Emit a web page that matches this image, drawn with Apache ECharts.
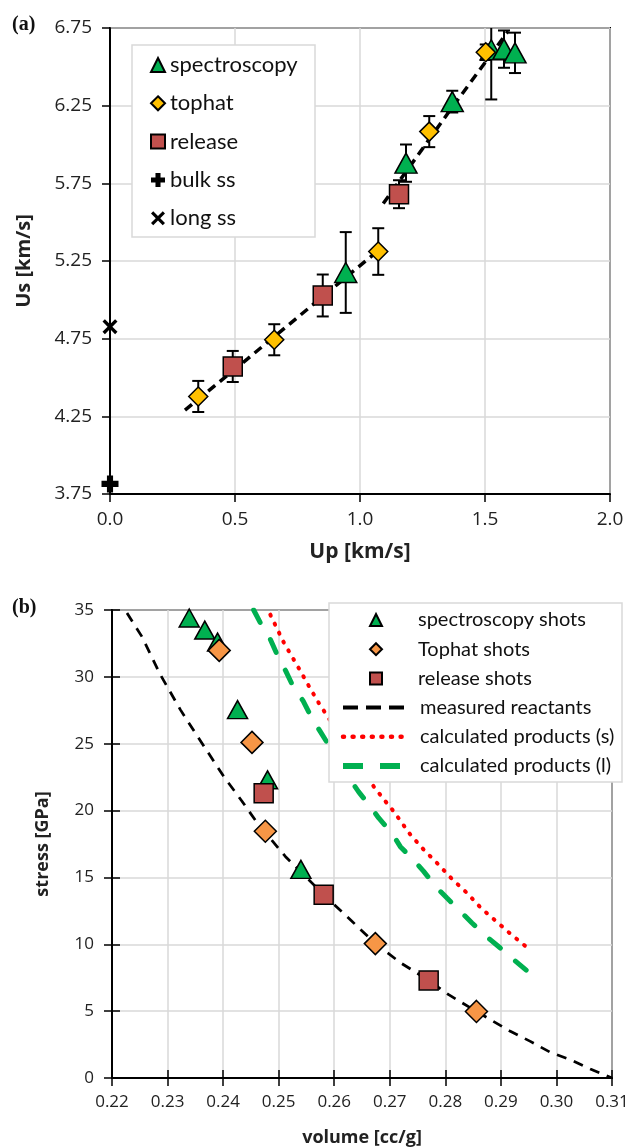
<!DOCTYPE html>
<html><head><meta charset="utf-8">
<script src="https://cdn.jsdelivr.net/npm/echarts@6/dist/echarts.min.js"></script>
<style>html,body{margin:0;padding:0;background:#fff}#c{width:635px;height:1148px}</style>
</head><body><div id="c"></div>
<script>
// ---------- Panel (a): Us vs Up ----------
const aSpecUp  = [0.943, 1.184, 1.369, 1.525, 1.576, 1.620];
const aSpecUs  = [5.176, 5.880, 6.276, 6.610, 6.614, 6.590];
const aSpecErr = [0.26, 0.12, 0.07, 0.32, 0.12, 0.13];
const aTopUp   = [0.353, 0.657, 1.073, 1.277, 1.503];
const aTopUs   = [4.378, 4.743, 5.311, 6.083, 6.594];
const aTopErr  = [0.10, 0.10, 0.15, 0.10, 0.05];
const aRelUp   = [0.491, 0.851, 1.156];
const aRelUs   = [4.571, 5.028, 5.680];
const aRelErr  = [0.10, 0.135, 0.09];
const aBulkUp  = [0.0];
const aBulkUs  = [3.815];
const aLongUp  = [0.0];
const aLongUs  = [4.827];
const aFitLowUp  = [0.30, 0.55, 0.85, 1.075];
const aFitLowUs  = [4.29, 4.62, 5.02, 5.32];
const aFitHighUp = [1.093, 1.36, 1.593];
const aFitHighUs = [5.62, 6.22, 6.73];

// ---------- Panel (b): stress vs volume ----------
const bSpecV = [0.2339, 0.2367, 0.2390, 0.2426, 0.2480, 0.2540];
const bSpecP = [34.4, 33.5, 32.6, 27.55, 22.3, 15.6];
const bTopV  = [0.2393, 0.2452, 0.2476, 0.2674, 0.2856];
const bTopP  = [31.98, 25.1, 18.45, 10.05, 4.98];
const bRelV  = [0.2473, 0.2581, 0.2770];
const bRelP  = [21.3, 13.71, 7.3];
const bMeasV = [0.2227,0.2254,0.2287,0.2323,0.2350,0.2401,0.2434,0.2461,0.2512,0.2545,0.2581,0.2630,0.2674,0.2720,0.2770,0.2806,0.2856,0.2917,0.2953,0.2989,0.3025,0.3061,0.3100];
const bMeasP = [34.78,33.0,30.16,27.55,25.8,22.56,20.7,19.1,16.57,15.2,13.71,11.8,10.05,8.6,7.3,6.23,4.98,3.49,2.74,1.92,1.37,0.67,0.0];
const bCalcSV = [0.2485,0.2509,0.2536,0.2554,0.2572,0.2671,0.2690,0.2707,0.2737,0.2761,0.2788,0.2812,0.2839,0.2863,0.2890,0.2917,0.2946];
const bCalcSP = [34.65,32.58,30.66,29.34,28.05,21.81,20.8,19.94,18.2,17.08,15.95,14.88,13.84,12.76,11.77,10.79,9.8];
const bCalcLV = [0.2455,0.2470,0.2485,0.2500,0.2512,0.2527,0.2544,0.2560,0.2575,0.2629,0.2644,0.2665,0.2680,0.2704,0.2719,0.2743,0.2761,0.2785,0.2803,0.2830,0.2848,0.2875,0.2899,0.2923,0.2946];
const bCalcLP = [35.0,33.8,32.8,31.4,30.5,29.2,28.2,26.9,25.9,22.3,21.4,20.3,19.45,18.3,17.3,16.3,15.45,14.21,13.46,12.34,11.59,10.55,9.72,8.85,8.05];

const aXTicks = {min:0, max:2, interval:0.5};
const aYTicks = {min:3.75, max:6.75, interval:0.5};
const bXTicks = {min:0.22, max:0.31, interval:0.01};
const bYTicks = {min:0, max:35, interval:5};

const zip = (xs, ys) => xs.map((x, i) => [x, ys[i]]);
const TICKFONT = 'Open Sans';
const LEGFONT = 'Lato';
const GREEN = '#00B050', YELLOW = '#FFC000', BRICK = '#C0504D', ORANGE = '#F79646';
const PLUS = 'path://M3.2,0H6.8V3.2H10V6.8H6.8V10H3.2V6.8H0V3.2H3.2Z';
const CROSS = 'path://M0,1.6L1.6,0L5,3.4L8.4,0L10,1.6L6.6,5L10,8.4L8.4,10L5,6.6L1.6,10L0,8.4L3.4,5Z';

function errSeries(xi, xs, ys, es) {
  return {
    type: 'custom', xAxisIndex: xi, yAxisIndex: xi, clip: true, silent: true, z: 2,
    data: xs.map((x, i) => [x, ys[i], es[i]]),
    renderItem: (params, api) => {
      const x = api.value(0), y = api.value(1), e = api.value(2);
      const t = api.coord([x, y + e]), b = api.coord([x, y - e]);
      const cw = 6, st = {stroke: '#000', lineWidth: 2};
      return {type: 'group', children: [
        {type: 'line', shape: {x1: t[0], y1: t[1], x2: b[0], y2: b[1]}, style: st},
        {type: 'line', shape: {x1: t[0]-cw, y1: t[1], x2: t[0]+cw, y2: t[1]}, style: st},
        {type: 'line', shape: {x1: b[0]-cw, y1: b[1], x2: b[0]+cw, y2: b[1]}, style: st}
      ]};
    }
  };
}

const gridLine = {show: true, lineStyle: {color: '#d9d9d9', width: 1.5}};
const axLine = {show: true, onZero: false, lineStyle: {color: '#000', width: 2}};
const nameStyle = sz => ({fontFamily: TICKFONT, fontWeight: 'bold', fontSize: sz, color: '#222'});

const chart = echarts.init(document.getElementById('c'), null, {renderer: 'canvas'});
chart.setOption({
  animation: false,
  backgroundColor: '#fff',
  grid: [
    {left: 110, top: 28, width: 500, height: 466, show: true, borderColor: '#000', borderWidth: 2, backgroundColor: 'transparent'},
    {left: 112, top: 610, width: 500, height: 468, show: true, borderColor: '#000', borderWidth: 2, backgroundColor: 'transparent'}
  ],
  xAxis: [
    Object.assign({type: 'value', gridIndex: 0, position: 'bottom', axisLine: axLine,
      axisTick: {show: true, inside: false, length: 8, lineStyle: {color: '#000', width: 1.5}},
      splitLine: gridLine,
      axisLabel: {formatter: v => v.toFixed(1), fontFamily: TICKFONT, fontSize: 19, color: '#222', margin: 16},
      name: 'Up [km/s]', nameLocation: 'middle', nameGap: 48, nameTextStyle: nameStyle(21)}, aXTicks),
    Object.assign({type: 'value', gridIndex: 1, position: 'bottom', axisLine: axLine,
      axisTick: {show: true, inside: false, length: 8, lineStyle: {color: '#000', width: 1.5}},
      splitLine: gridLine,
      axisLabel: {formatter: v => v.toFixed(2), fontFamily: TICKFONT, fontSize: 17, color: '#222', margin: 16},
      name: 'volume [cc/g]', nameLocation: 'middle', nameGap: 51, nameTextStyle: nameStyle(18)}, bXTicks),
    Object.assign({type: 'value', gridIndex: 1, position: 'bottom', axisLine: {show: false},
      axisTick: {show: true, inside: true, length: 8, lineStyle: {color: '#000', width: 1.5}},
      splitLine: {show: false}, axisLabel: {show: false}}, bXTicks)
  ],
  yAxis: [
    Object.assign({type: 'value', gridIndex: 0, position: 'left', axisLine: axLine,
      axisTick: {show: true, inside: false, length: 8, lineStyle: {color: '#000', width: 1.5}},
      splitLine: gridLine,
      axisLabel: {formatter: v => v.toFixed(2), fontFamily: TICKFONT, fontSize: 19, color: '#222', margin: 18},
      name: 'Us [km/s]', nameLocation: 'middle', nameGap: 76, nameTextStyle: nameStyle(20)}, aYTicks),
    Object.assign({type: 'value', gridIndex: 1, position: 'left', axisLine: axLine,
      axisTick: {show: true, inside: false, length: 8, lineStyle: {color: '#000', width: 1.5}},
      splitLine: gridLine,
      axisLabel: {fontFamily: TICKFONT, fontSize: 17, color: '#222', margin: 18},
      name: 'stress [GPa]', nameLocation: 'middle', nameGap: 60, nameTextStyle: nameStyle(18)}, bYTicks),
    Object.assign({type: 'value', gridIndex: 1, position: 'left', axisLine: {show: false},
      axisTick: {show: true, inside: true, length: 8, lineStyle: {color: '#000', width: 1.5}},
      splitLine: {show: false}, axisLabel: {show: false}}, bYTicks)
  ],
  legend: [
    {
      data: ['spectroscopy', 'tophat', 'release', 'bulk ss', 'long ss'],
      orient: 'vertical', left: 150, top: 53, padding: 0,
      itemWidth: 14, itemHeight: 14, itemGap: 14.3, selectedMode: false,
      textStyle: {fontFamily: LEGFONT, fontSize: 22, lineHeight: 24, color: '#111'}
    },
    {
      data: ['spectroscopy shots', 'Tophat shots', 'release shots'],
      orient: 'vertical', left: 369, top: 609, padding: 0,
      itemWidth: 12, itemHeight: 12, itemGap: 7.2, selectedMode: false,
      textStyle: {fontFamily: LEGFONT, fontSize: 20, lineHeight: 22, color: '#111', padding: [0, 0, 0, 31]}
    },
    {
      data: [
        {name: 'measured reactants', lineStyle: {color: '#000', width: 4, type: [15, 8], cap: 'butt'}},
        {name: 'calculated products (s)', lineStyle: {color: '#FF0000', width: 4.5, type: [1, 8.6], cap: 'round'}},
        {name: 'calculated products (l)', lineStyle: {color: GREEN, width: 6, type: [20, 17], cap: 'butt'}}
      ],
      orient: 'vertical', left: 340, top: 696.6, padding: 0,
      itemWidth: 62, itemHeight: 12, itemGap: 7.2, selectedMode: false,
      itemStyle: {color: 'rgba(0,0,0,0)', borderWidth: 0, opacity: 0},
      textStyle: {fontFamily: LEGFONT, fontSize: 20, lineHeight: 22, color: '#111', padding: [0, 0, 0, 10]}
    }
  ],
  graphic: [
    {type: 'rect', z: 3, shape: {x: 132, y: 45, width: 183, height: 192},
      style: {fill: '#fff', stroke: '#d9d9d9', lineWidth: 1.5}},
    {type: 'rect', z: 3, shape: {x: 329, y: 603, width: 293, height: 179},
      style: {fill: '#fff', stroke: '#d9d9d9', lineWidth: 1.5}},
    {type: 'text', left: 12, top: 15, z: 5,
      style: {text: '(a)', font: 'bold 20px "Liberation Serif"', fill: '#111'}},
    {type: 'text', left: 12, top: 598, z: 5,
      style: {text: '(b)', font: 'bold 20px "Liberation Serif"', fill: '#111'}}
  ],
  series: [
    // ---- panel (a) ----
    {type: 'line', xAxisIndex: 0, yAxisIndex: 0, data: zip(aFitLowUp, aFitLowUs), symbol: 'none', z: 1,
      lineStyle: {color: '#000', width: 3.5, type: [9, 6]}, silent: true},
    {type: 'line', xAxisIndex: 0, yAxisIndex: 0, data: zip(aFitHighUp, aFitHighUs), symbol: 'none', z: 1,
      lineStyle: {color: '#000', width: 3.5, type: [9, 6]}, silent: true},
    errSeries(0, aSpecUp, aSpecUs, aSpecErr),
    errSeries(0, aTopUp, aTopUs, aTopErr),
    errSeries(0, aRelUp, aRelUs, aRelErr),
    {name: 'spectroscopy', type: 'scatter', xAxisIndex: 0, yAxisIndex: 0, data: zip(aSpecUp, aSpecUs),
      symbol: 'triangle', symbolSize: [22, 20], clip: false, z: 3,
      itemStyle: {color: GREEN, borderColor: '#000', borderWidth: 1.5, opacity: 1}},
    {name: 'tophat', type: 'scatter', xAxisIndex: 0, yAxisIndex: 0, data: zip(aTopUp, aTopUs),
      symbol: 'diamond', symbolSize: 19, clip: false, z: 3,
      itemStyle: {color: YELLOW, borderColor: '#000', borderWidth: 1.5, opacity: 1}},
    {name: 'release', type: 'scatter', xAxisIndex: 0, yAxisIndex: 0, data: zip(aRelUp, aRelUs),
      symbol: 'rect', symbolSize: 19, clip: false, z: 3,
      itemStyle: {color: BRICK, borderColor: '#000', borderWidth: 1.5, opacity: 1}},
    {name: 'bulk ss', type: 'scatter', xAxisIndex: 0, yAxisIndex: 0, data: zip(aBulkUp, aBulkUs),
      symbol: PLUS, symbolSize: 17, clip: false, z: 3,
      itemStyle: {color: '#000', opacity: 1}},
    {name: 'long ss', type: 'scatter', xAxisIndex: 0, yAxisIndex: 0, data: zip(aLongUp, aLongUs),
      symbol: CROSS, symbolSize: 15, clip: false, z: 3,
      itemStyle: {color: '#000', opacity: 1}},
    // ---- panel (b) ----
    {name: 'measured reactants', type: 'line', xAxisIndex: 1, yAxisIndex: 1, data: zip(bMeasV, bMeasP),
      symbol: 'none', z: 2, itemStyle: {color: '#000'},
      lineStyle: {color: '#000', width: 2.75, type: [10, 8]}},
    {name: 'calculated products (s)', type: 'line', xAxisIndex: 1, yAxisIndex: 1, data: zip(bCalcSV, bCalcSP),
      symbol: 'none', z: 2, itemStyle: {color: '#FF0000'},
      lineStyle: {color: '#FF0000', width: 4, type: [1, 9], cap: 'round'}},
    {name: 'calculated products (l)', type: 'line', xAxisIndex: 1, yAxisIndex: 1, data: zip(bCalcLV, bCalcLP),
      symbol: 'none', z: 2, itemStyle: {color: GREEN},
      lineStyle: {color: GREEN, width: 5, type: [14, 20], cap: 'round'}},
    {name: 'spectroscopy shots', type: 'scatter', xAxisIndex: 1, yAxisIndex: 1, data: zip(bSpecV, bSpecP),
      symbol: 'triangle', symbolSize: [20, 18], clip: false, z: 3,
      itemStyle: {color: GREEN, borderColor: '#000', borderWidth: 1.5, opacity: 1}},
    {name: 'Tophat shots', type: 'scatter', xAxisIndex: 1, yAxisIndex: 1, data: zip(bTopV, bTopP),
      symbol: 'diamond', symbolSize: 22, clip: false, z: 3,
      itemStyle: {color: ORANGE, borderColor: '#000', borderWidth: 1.5, opacity: 1}},
    {name: 'release shots', type: 'scatter', xAxisIndex: 1, yAxisIndex: 1, data: zip(bRelV, bRelP),
      symbol: 'rect', symbolSize: 19, clip: false, z: 3,
      itemStyle: {color: BRICK, borderColor: '#000', borderWidth: 1.5, opacity: 1}}
  ]
});
</script>
</body></html>
